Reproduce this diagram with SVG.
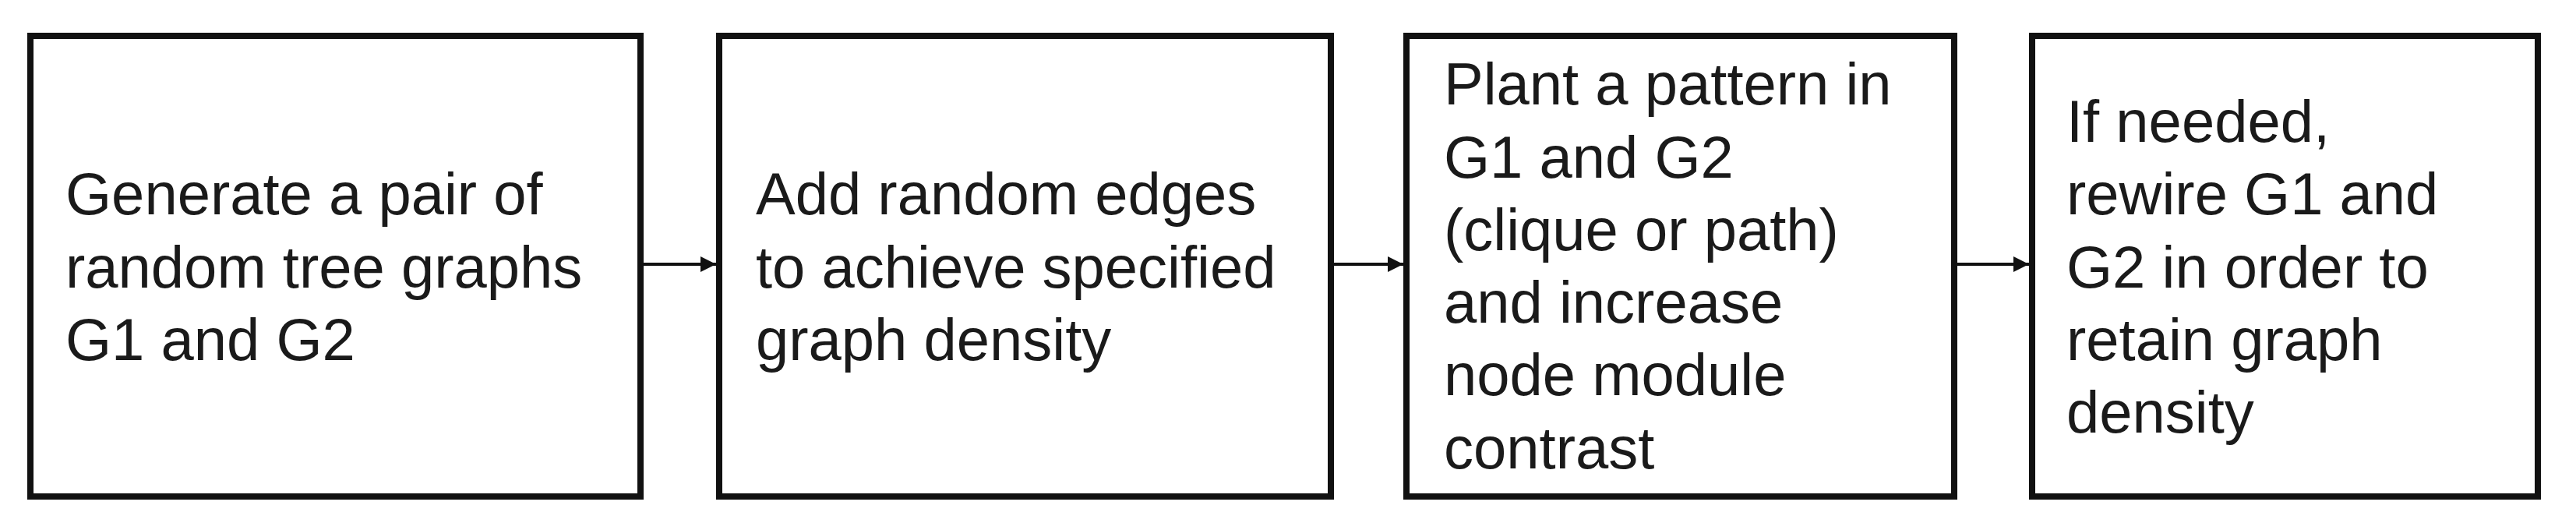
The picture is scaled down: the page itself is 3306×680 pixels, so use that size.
<svg xmlns="http://www.w3.org/2000/svg" width="3306" height="680" viewBox="0 0 3306 680">
<style>
.box{fill:#fff;stroke:#111;stroke-width:8}
.t{font-family:"Liberation Sans",Arial,sans-serif;font-size:76px;fill:#1a1a1a}
.c{stroke:#111;stroke-width:4;fill:none}
</style>
<defs><marker id="a" markerWidth="5" markerHeight="5" refX="5" refY="2.5" orient="auto" markerUnits="strokeWidth"><path d="M0,0L5,2.5L0,5z" fill="#111"/></marker></defs>
<rect width="3306" height="680" fill="#fff"/>
<g id="n1"><rect class="box" x="39" y="46" width="783" height="591"/><text class="t" x="84"><tspan y="275">Generate a pair of</tspan><tspan x="84" y="369">random tree graphs</tspan><tspan x="84" y="462">G1 and G2</tspan></text></g>
<g id="n2"><rect class="box" x="923" y="46" width="785" height="591"/><text class="t" x="970"><tspan y="275">Add random edges</tspan><tspan x="970" y="369">to achieve specified</tspan><tspan x="970" y="462">graph density</tspan></text></g>
<g id="n3"><rect class="box" x="1805" y="46" width="703" height="591"/><text class="t" x="1853"><tspan y="134">Plant a pattern in</tspan><tspan x="1853" y="228">G1 and G2</tspan><tspan x="1853" y="321">(clique or path)</tspan><tspan x="1853" y="414">and increase</tspan><tspan x="1853" y="507">node module</tspan><tspan x="1853" y="601">contrast</tspan></text></g>
<g id="n4"><rect class="box" x="2608" y="46" width="649" height="591"/><text class="t" x="2652"><tspan y="182">If needed,</tspan><tspan x="2652" y="275">rewire G1 and</tspan><tspan x="2652" y="369">G2 in order to</tspan><tspan x="2652" y="462">retain graph</tspan><tspan x="2652" y="555">density</tspan></text></g>
<g id="connectors">
<line class="c" x1="826" y1="339" x2="919" y2="339" marker-end="url(#a)"/>
<line class="c" x1="1712" y1="339" x2="1801" y2="339" marker-end="url(#a)"/>
<line class="c" x1="2512" y1="339" x2="2604" y2="339" marker-end="url(#a)"/>
</g>
</svg>
